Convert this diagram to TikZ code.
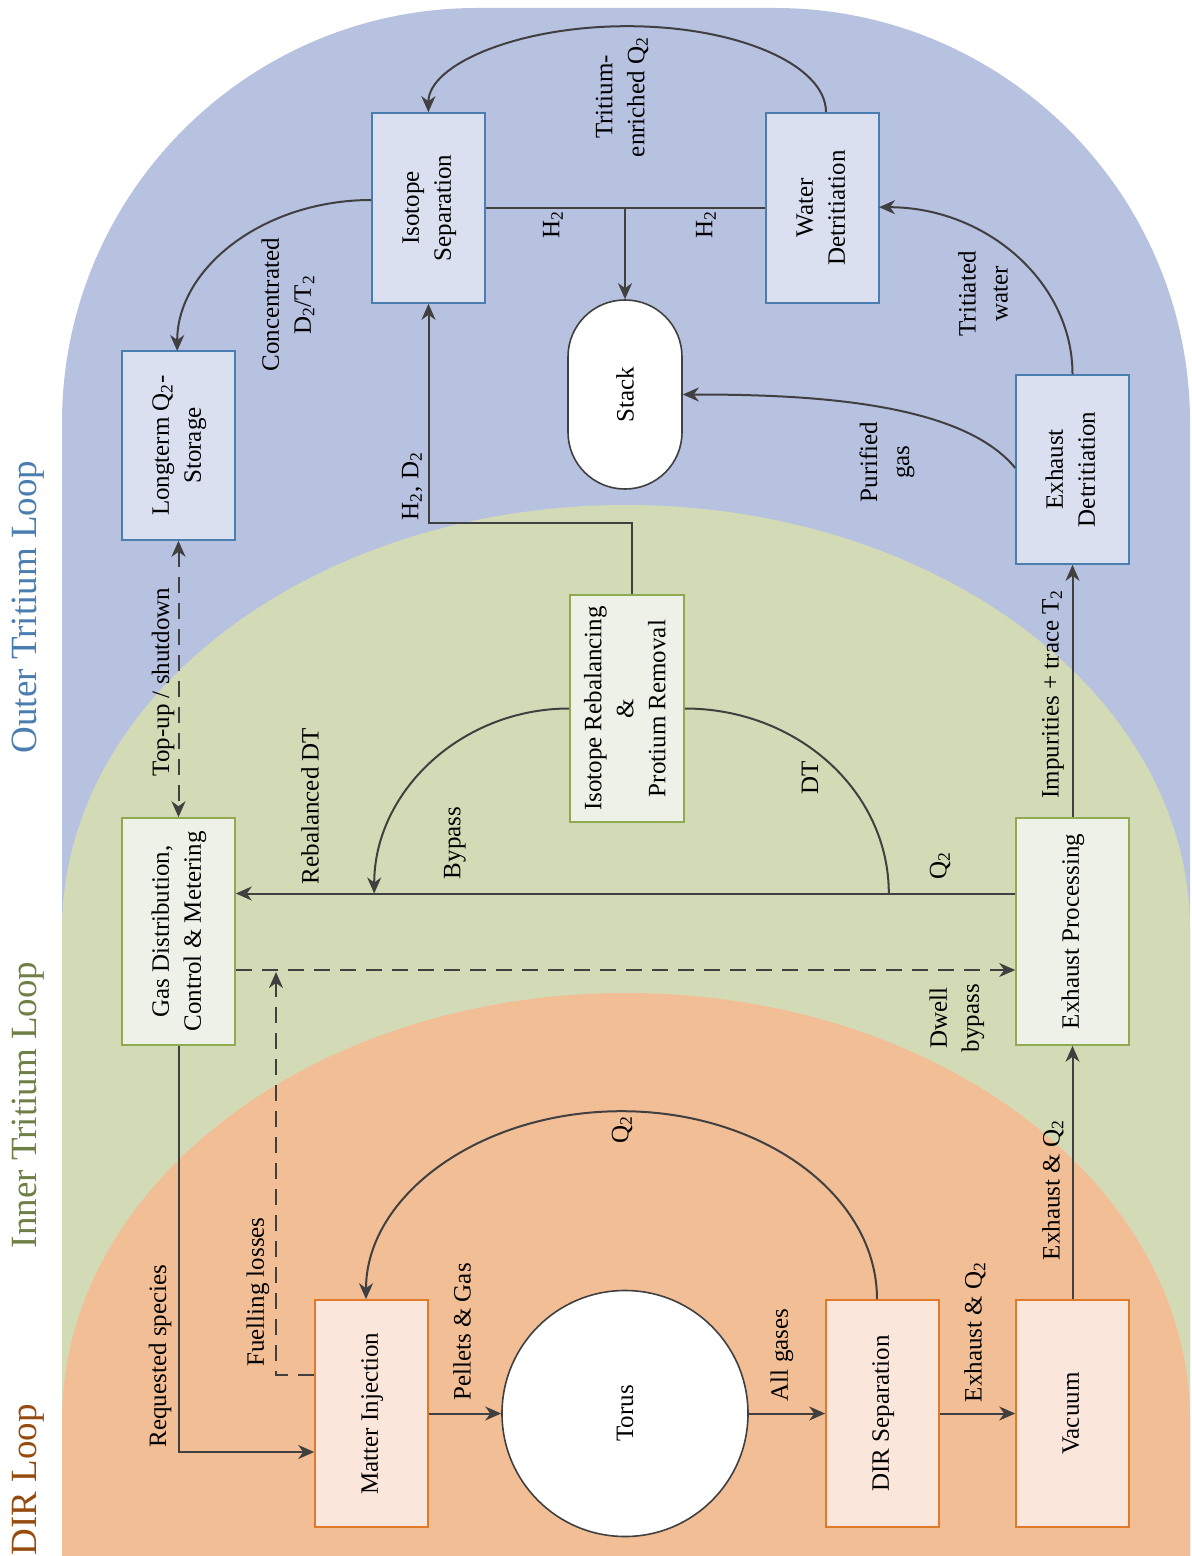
\documentclass[tikz,border=0pt]{standalone}
\usepackage{fontspec}
\setmainfont{Liberation Serif}
\usetikzlibrary{arrows.meta}

\definecolor{outerbg}{RGB}{183,193,224}
\definecolor{innerbg}{RGB}{211,219,182}
\definecolor{dirbg}{RGB}{242,190,150}
\definecolor{outerfill}{RGB}{218,224,239}
\definecolor{outerline}{RGB}{74,126,176}
\definecolor{innerfill}{RGB}{238,241,232}
\definecolor{innerline}{RGB}{143,170,80}
\definecolor{dirfill}{RGB}{250,230,218}
\definecolor{dirline}{RGB}{224,122,40}
\definecolor{flow}{RGB}{64,64,64}
\definecolor{outertext}{RGB}{74,126,176}
\definecolor{innertext}{RGB}{110,128,70}
\definecolor{dirtext}{RGB}{150,75,15}

% text set bottom-to-top inside an upright box
\newcommand\vtext[1]{\rotatebox{90}{\begin{tabular}{@{}c@{}}#1\end{tabular}}}

\begin{document}
\begin{tikzpicture}[x=0.5pt,y=-0.5pt,
  font=\fontsize{12.5}{16}\selectfont,
  box/.style={draw, line width=0.8pt, minimum width=56.5pt, inner sep=0pt},
  outerbox/.style={box, fill=outerfill, draw=outerline},
  innerbox/.style={box, fill=innerfill, draw=innerline},
  dirbox/.style={box, fill=dirfill, draw=dirline},
  flowline/.style={draw=flow, line width=1pt},
  tip/.tip={Stealth[length=8pt,width=7pt,inset=2.5pt]},
  arr/.style={flowline, -tip},
  darr/.style={arr, dash pattern=on 8pt off 5pt},
  lbl/.style={rotate=90, align=center, inner sep=0pt},
  looplbl/.style={rotate=90, inner sep=0pt, font=\fontsize{18.5}{22}\selectfont}]

\useasboundingbox (0,0) rectangle (1192,1556);

% loop regions
\begin{scope}
  \clip (0,0) rectangle (1192,1556);
  \fill[outerbg, rounded corners=207.5pt]
    (62,2400) -- (62,8) -- (1190,8) -- (1190,2400) -- cycle;
  \fill[innerbg] (62,2000) -- (62,930)
    arc[start angle=180, end angle=0, x radius=282pt, y radius=212.5pt]
    -- (1190,2000) -- cycle;
  \fill[dirbg] (62,2000) -- (62,1420)
    arc[start angle=180, end angle=0, x radius=282pt, y radius=213.5pt]
    -- (1190,2000) -- cycle;
\end{scope}

% loop titles
\node[looplbl, text=outertext] (tOuter) at (28,607) {Outer Tritium Loop};
\node[looplbl, text=innertext] (tInner) at (28,1105) {Inner Tritium Loop};
\node[looplbl, text=dirtext] (tDir) at (28,1480) {DIR Loop};

% process blocks
\node[outerbox, minimum height=94.5pt] (store) at (178.5,445.5) {\vtext{Longterm Q\textsubscript{2}-\\Storage}};
\node[outerbox, minimum height=95pt] (isosep) at (428.5,208) {\vtext{Isotope\\Separation}};
\node[outerbox, minimum height=95pt] (waterdet) at (822.5,208) {\vtext{Water\\Detritiation}};
\node[draw=flow, fill=white, line width=0.8pt, minimum width=57pt, minimum height=94.5pt,
      rounded corners=28.4pt, inner sep=0pt] (stack) at (625,394.5) {\rotatebox{90}{Stack}};
\node[outerbox, minimum height=94.5pt] (exdet) at (1072.5,469.5) {\vtext{Exhaust\\Detritiation}};
\node[innerbox, minimum width=57pt, minimum height=113.5pt] (rebal) at (627,708.5) {\vtext{Isotope Rebalancing\\\&\\Protium Removal}};
\node[innerbox, minimum height=113.5pt] (gasdist) at (178.5,931.5) {\vtext{Gas Distribution,\\Control \& Metering}};
\node[innerbox, minimum height=113.5pt] (exproc) at (1072.5,931.5) {\vtext{Exhaust Processing}};
\node[dirbox, minimum height=113.5pt] (inject) at (371.5,1413.5) {\vtext{Matter Injection}};
\node[circle, draw=flow, fill=white, line width=0.8pt, minimum size=123pt, inner sep=0pt] (torus) at (625,1413.5) {\rotatebox{90}{Torus}};
\node[dirbox, minimum height=113.5pt] (dirsep) at (882.5,1413.5) {\vtext{DIR Separation}};
\node[dirbox, minimum height=113.5pt] (vacuum) at (1072.5,1413.5) {\vtext{Vacuum}};

% routing points
\coordinate (reqY) at (178.5,1452);
\coordinate (fuelKink) at (276,1375);
\coordinate (fuelTop) at (276,972);
\coordinate (dwellY) at (600,970);
\coordinate (q2Y) at (600,893.5);
\coordinate (recycleX) at (877,1300);
\coordinate (enrichX) at (826,113);
\coordinate (concY) at (372,200);
\coordinate (hdX) at (632,595);
\coordinate (hdKink) at (428.5,523);
\coordinate (purY) at (1016,468);

% DIR loop
\draw[arr] (gasdist.south) |- (inject.west |- reqY);
\draw[darr] (inject.west |- fuelKink) -- (fuelKink) -- (fuelTop);
\draw[arr] (inject.east) -- (torus.west);
\draw[arr] (torus.east) -- (dirsep.west);
\draw[arr] (dirsep.east) -- (vacuum.west);
\draw[arr] (dirsep.north -| recycleX)
  arc[start angle=0, end angle=180, x radius=127.75pt, y radius=94pt];

% inner loop
\draw[darr] (gasdist.east |- dwellY) -- (exproc.west |- dwellY);
\draw[arr] (vacuum.north) -- (exproc.south);
\draw[arr] (exproc.west |- q2Y) -- (gasdist.east |- q2Y);
\draw[flowline] (rebal.east)
  arc[start angle=90, end angle=0, x radius=102pt, y radius=92.5pt];
\draw[arr] (rebal.west)
  arc[start angle=90, end angle=180, x radius=97.5pt, y radius=92.5pt];
\draw[arr] (exproc.north) -- (exdet.south);
\draw[darr, tip-tip] (store.south) -- (gasdist.north);

% outer loop
\draw[arr] (exdet.west |- purY) .. controls (960,400) and (800,394.5) .. (stack.east);
\draw[arr] (exdet.north)
  arc[start angle=0, end angle=90, x radius=96.75pt, y radius=83.5pt];
\draw[flowline] (isosep.east) -- (waterdet.west);
\draw[arr] (isosep.east -| stack.north) -- (stack.north);
\draw[arr] (waterdet.north -| enrichX)
  arc[start angle=0, end angle=180, x radius=99.4pt, y radius=43pt];
\draw[arr] (isosep.west |- concY)
  arc[start angle=90, end angle=180, x radius=97pt, y radius=75.5pt];
\draw[arr] (rebal.north -| hdX) |- (hdKink) -- (isosep.south);

% flow labels
\node[lbl] (lConc) at (288,305) {Concentrated\\D\textsubscript{2}/T\textsubscript{2}};
\node[lbl] (lHD) at (412,486) {H\textsubscript{2}, D\textsubscript{2}};
\node[lbl] (lH2a) at (553,225) {H\textsubscript{2}};
\node[lbl] (lH2b) at (706,225) {H\textsubscript{2}};
\node[lbl] (lTrit) at (622,97) {Tritium-\\enriched Q\textsubscript{2}};
\node[lbl] (lPur) at (887,462) {Purified\\gas};
\node[lbl] (lWat) at (983,294) {Tritiated\\water};
\node[lbl] (lTop) at (163,682) {Top-up / shutdown};
\node[lbl] (lReb) at (310,806) {Rebalanced DT};
\node[lbl] (lByp) at (455,843) {Bypass};
\node[lbl] (lDT) at (810,778) {DT};
\node[lbl] (lQa) at (940,866) {Q\textsubscript{2}};
\node[lbl] (lImp) at (1053,694) {Impurities + trace T\textsubscript{2}};
\node[lbl] (lDwell) at (957,1018) {Dwell\\bypass};
\node[lbl] (lExV) at (1053,1190) {Exhaust \& Q\textsubscript{2}};
\node[lbl] (lQb) at (622,1130) {Q\textsubscript{2}};
\node[lbl] (lReq) at (160,1356) {Requested species};
\node[lbl] (lFuel) at (258,1292) {Fuelling losses};
\node[lbl] (lPel) at (462,1332) {Pellets \& Gas};
\node[lbl] (lAll) at (782,1355) {All gases};
\node[lbl] (lExH) at (975,1332) {Exhaust \& Q\textsubscript{2}};

\end{tikzpicture}
\end{document}
